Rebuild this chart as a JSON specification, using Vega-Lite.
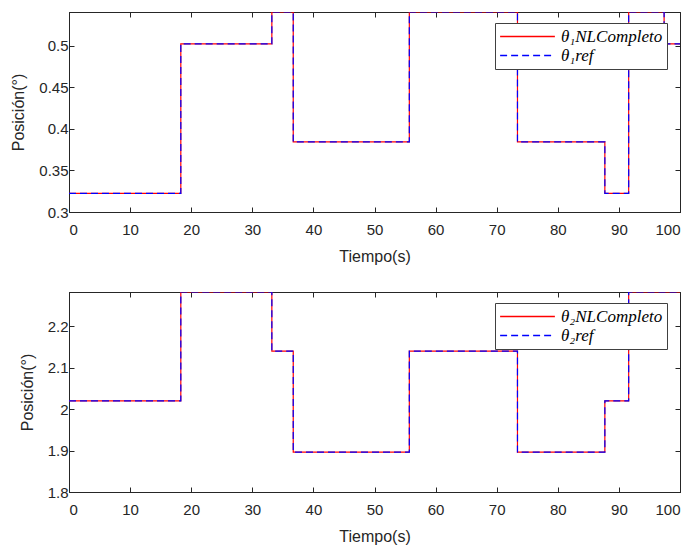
{
  "$schema": "https://vega.github.io/schema/vega-lite/v6.json",
  "padding": {"left": 10, "top": 8, "right": 5, "bottom": 0},
  "spacing": 23,
  "datasets": {
    "top": [
      {"s": "θ₁NLCompleto", "t": 0, "v": 0.3225},
      {"s": "θ₁NLCompleto", "t": 18.3, "v": 0.502},
      {"s": "θ₁NLCompleto", "t": 33.2, "v": 0.5404},
      {"s": "θ₁NLCompleto", "t": 36.7, "v": 0.3843},
      {"s": "θ₁NLCompleto", "t": 55.7, "v": 0.5404},
      {"s": "θ₁NLCompleto", "t": 73.4, "v": 0.3843},
      {"s": "θ₁NLCompleto", "t": 87.7, "v": 0.3225},
      {"s": "θ₁NLCompleto", "t": 91.6, "v": 0.5404},
      {"s": "θ₁NLCompleto", "t": 97.4, "v": 0.502},
      {"s": "θ₁NLCompleto", "t": 100, "v": 0.502},
      {"s": "θ₁ref", "t": 0, "v": 0.3225},
      {"s": "θ₁ref", "t": 18.3, "v": 0.502},
      {"s": "θ₁ref", "t": 33.2, "v": 0.5404},
      {"s": "θ₁ref", "t": 36.7, "v": 0.3843},
      {"s": "θ₁ref", "t": 55.7, "v": 0.5404},
      {"s": "θ₁ref", "t": 73.4, "v": 0.3843},
      {"s": "θ₁ref", "t": 87.7, "v": 0.3225},
      {"s": "θ₁ref", "t": 91.6, "v": 0.5404},
      {"s": "θ₁ref", "t": 97.4, "v": 0.502},
      {"s": "θ₁ref", "t": 100, "v": 0.502}
    ],
    "bottom": [
      {"s": "θ₂NLCompleto", "t": 0, "v": 2.02},
      {"s": "θ₂NLCompleto", "t": 18.3, "v": 2.2824},
      {"s": "θ₂NLCompleto", "t": 33.2, "v": 2.14},
      {"s": "θ₂NLCompleto", "t": 36.7, "v": 1.896},
      {"s": "θ₂NLCompleto", "t": 55.7, "v": 2.14},
      {"s": "θ₂NLCompleto", "t": 73.4, "v": 1.896},
      {"s": "θ₂NLCompleto", "t": 87.7, "v": 2.02},
      {"s": "θ₂NLCompleto", "t": 91.6, "v": 2.2824},
      {"s": "θ₂NLCompleto", "t": 100, "v": 2.2824},
      {"s": "θ₂ref", "t": 0, "v": 2.02},
      {"s": "θ₂ref", "t": 18.3, "v": 2.2824},
      {"s": "θ₂ref", "t": 33.2, "v": 2.14},
      {"s": "θ₂ref", "t": 36.7, "v": 1.896},
      {"s": "θ₂ref", "t": 55.7, "v": 2.14},
      {"s": "θ₂ref", "t": 73.4, "v": 1.896},
      {"s": "θ₂ref", "t": 87.7, "v": 2.02},
      {"s": "θ₂ref", "t": 91.6, "v": 2.2824},
      {"s": "θ₂ref", "t": 100, "v": 2.2824}
    ]
  },
  "vconcat": [
    {
      "width": 611,
      "height": 200,
      "data": {"name": "top"},
      "resolve": {"axis": {"x": "independent", "y": "independent"}},
      "layer": [
        {
          "mark": {"type": "line", "interpolate": "step-after", "strokeWidth": 1.2, "clip": true},
          "encoding": {
            "x": {"field": "t", "type": "quantitative", "scale": {"domain": [0, 100], "nice": false},
                  "axis": {"orient": "bottom", "title": "Tiempo(s)", "values": [0,10,20,30,40,50,60,70,80,90,100]}},
            "y": {"field": "v", "type": "quantitative", "scale": {"domain": [0.3, 0.5404], "nice": false, "zero": false},
                  "axis": {"orient": "left", "title": "Posición(°)", "values": [0.3,0.35,0.4,0.45,0.5], "format": "~g"}},
            "color": {"field": "s", "type": "nominal", "sort": null,
                      "scale": {"domain": ["θ₁NLCompleto", "θ₁ref"], "range": ["#ff0000", "#0000ff"]},
                      "legend": {"title": null, "orient": "none", "legendX": 426, "legendY": 11}},
            "strokeDash": {"field": "s", "type": "nominal", "sort": null,
                      "scale": {"domain": ["θ₁NLCompleto", "θ₁ref"], "range": [[1, 0], [7, 4]]},
                      "legend": {"title": null, "orient": "none", "legendX": 426, "legendY": 11}}
          }
        },
        {
          "mark": {"type": "point", "opacity": 0},
          "encoding": {
            "x": {"field": "t", "type": "quantitative", "axis": {"orient": "top", "labels": false, "title": null, "values": [0,10,20,30,40,50,60,70,80,90,100]}},
            "y": {"field": "v", "type": "quantitative", "axis": {"orient": "right", "labels": false, "title": null, "values": [0.3,0.35,0.4,0.45,0.5]}}
          }
        }
      ]
    },
    {
      "width": 611,
      "height": 200,
      "data": {"name": "bottom"},
      "resolve": {"axis": {"x": "independent", "y": "independent"}},
      "layer": [
        {
          "mark": {"type": "line", "interpolate": "step-after", "strokeWidth": 1.2, "clip": true},
          "encoding": {
            "x": {"field": "t", "type": "quantitative", "scale": {"domain": [0, 100], "nice": false},
                  "axis": {"orient": "bottom", "title": "Tiempo(s)", "values": [0,10,20,30,40,50,60,70,80,90,100]}},
            "y": {"field": "v", "type": "quantitative", "scale": {"domain": [1.8, 2.2824], "nice": false, "zero": false},
                  "axis": {"orient": "left", "title": "Posición(°)", "values": [1.8,1.9,2,2.1,2.2], "format": "~g"}},
            "color": {"field": "s", "type": "nominal", "sort": null,
                      "scale": {"domain": ["θ₂NLCompleto", "θ₂ref"], "range": ["#ff0000", "#0000ff"]},
                      "legend": {"title": null, "orient": "none", "legendX": 426, "legendY": 11}},
            "strokeDash": {"field": "s", "type": "nominal", "sort": null,
                      "scale": {"domain": ["θ₂NLCompleto", "θ₂ref"], "range": [[1, 0], [7, 4]]},
                      "legend": {"title": null, "orient": "none", "legendX": 426, "legendY": 11}}
          }
        },
        {
          "mark": {"type": "point", "opacity": 0},
          "encoding": {
            "x": {"field": "t", "type": "quantitative", "axis": {"orient": "top", "labels": false, "title": null, "values": [0,10,20,30,40,50,60,70,80,90,100]}},
            "y": {"field": "v", "type": "quantitative", "axis": {"orient": "right", "labels": false, "title": null, "values": [1.8,1.9,2,2.1,2.2]}}
          }
        }
      ]
    }
  ],
  "resolve": {"scale": {"color": "independent", "strokeDash": "independent"}, "legend": {"color": "independent", "strokeDash": "independent"}},
  "config": {
    "view": {"stroke": "#262626", "strokeWidth": 1},
    "axis": {
      "grid": false,
      "domainColor": "#262626",
      "tickColor": "#262626",
      "tickSize": -5,
      "labelPadding": 15,
      "labelFont": "Liberation Sans",
      "labelFontSize": 15,
      "labelColor": "#262626",
      "titleFont": "Liberation Sans",
      "titleFontSize": 16,
      "titleFontWeight": "normal",
      "titleColor": "#262626"
    },
    "axisX": {"titlePadding": 11},
    "axisY": {"labelPadding": 6, "titlePadding": 12},
    "legend": {
      "symbolType": "stroke",
      "symbolSize": 3000,
      "symbolStrokeWidth": 1.5,
      "symbolOpacity": 1,
      "labelFont": "Liberation Serif",
      "labelFontStyle": "italic",
      "labelFontSize": 17,
      "labelColor": "#000000",
      "fillColor": "#ffffff",
      "strokeColor": "#404040",
      "padding": 4,
      "rowPadding": 0,
      "clipHeight": 19,
      "labelOffset": 5
    }
  }
}
